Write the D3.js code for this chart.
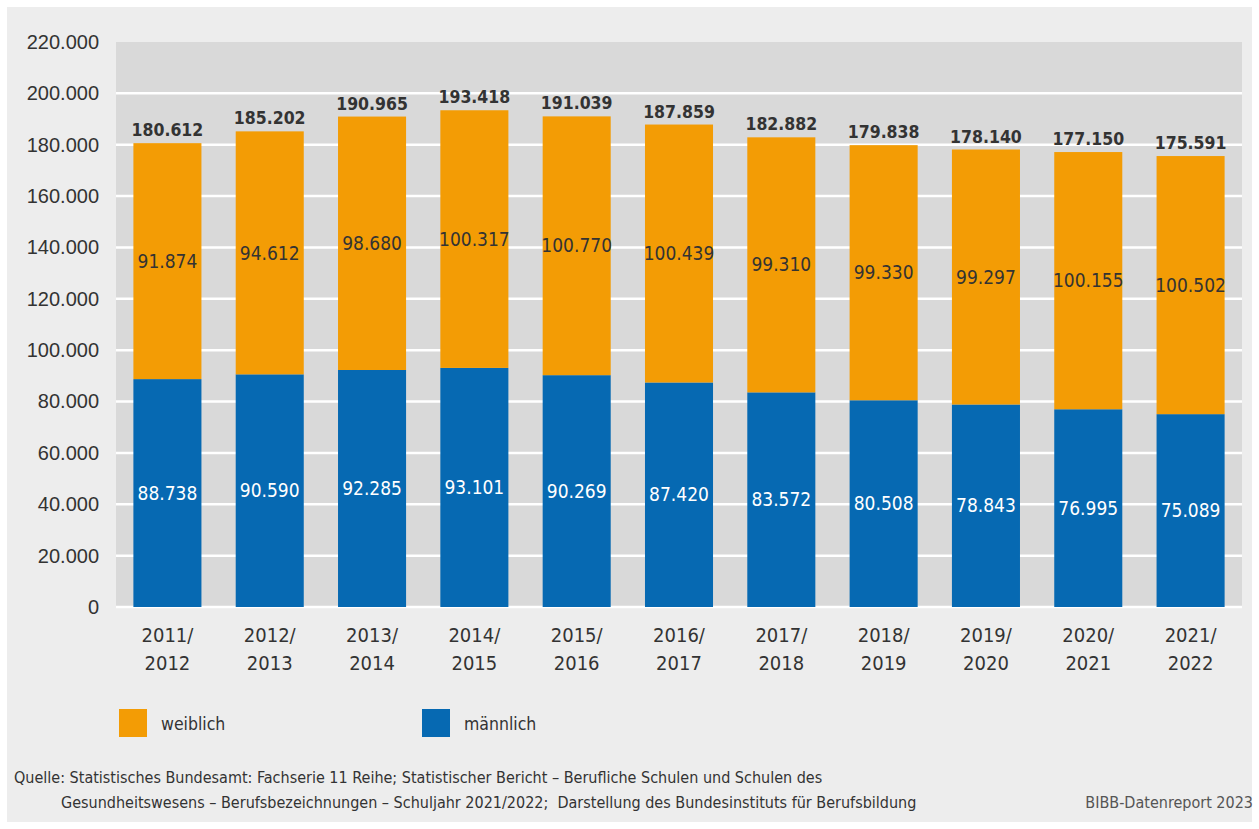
<!DOCTYPE html>
<html><head><meta charset="utf-8">
<script src="https://cdn.jsdelivr.net/npm/d3@7"></script>
<style>
body{margin:0;background:#fff;}
svg{display:block;font-family:"DejaVu Sans Condensed","DejaVu Sans",sans-serif;}
</style></head>
<body><svg id="c" width="1259" height="829"></svg>
<script>
const categories = ["2011/2012","2012/2013","2013/2014","2014/2015","2015/2016","2016/2017","2017/2018","2018/2019","2019/2020","2020/2021","2021/2022"];
const maennlich = [88738,90590,92285,93101,90269,87420,83572,80508,78843,76995,75089];
const weiblich = [91874,94612,98680,100317,100770,100439,99310,99330,99297,100155,100502];
const totals = [180612,185202,190965,193418,191039,187859,182882,179838,178140,177150,175591];
const yTicks = [0,20000,40000,60000,80000,100000,120000,140000,160000,180000,200000,220000];

const svg = d3.select("#c");
svg.append("rect").attr("x",7).attr("y",7).attr("width",1245).attr("height",815).attr("fill","#ededed");

const m = {l:116, r:1242, t:42, b:607};
const x = d3.scaleBand().domain(categories).range([m.l,m.r]).paddingInner(0.335).paddingOuter(0.17);
const y = d3.scaleLinear().domain([0,220000]).range([m.b,m.t]);
const fmt = v => d3.format(",")(v).replace(/,/g,".");

svg.append("rect").attr("x",m.l).attr("y",m.t).attr("width",m.r-m.l).attr("height",m.b-m.t).attr("fill","#d9d9d9");
svg.append("g").selectAll("line").data(yTicks.slice(0,-1)).join("line")
  .attr("x1",m.l).attr("x2",m.r).attr("y1",d=>y(d)).attr("y2",d=>y(d))
  .attr("stroke","#fff").attr("stroke-width",2.5);

const yAxis = svg.append("g").attr("transform",`translate(${m.l},0)`)
  .call(d3.axisLeft(y).tickValues(yTicks).tickFormat(fmt).tickSize(0).tickPadding(17));
yAxis.select(".domain").remove();
yAxis.selectAll("text").attr("font-size",20).attr("fill","#333").attr("font-family","inherit");

const bw = x.bandwidth();
svg.append("g").selectAll("rect").data(categories).join("rect")
  .attr("x",d=>x(d)).attr("width",bw)
  .attr("y",(d,i)=>y(maennlich[i])).attr("height",(d,i)=>y(0)-y(maennlich[i]))
  .attr("fill","#0669b2");
svg.append("g").selectAll("rect").data(categories).join("rect")
  .attr("x",d=>x(d)).attr("width",bw)
  .attr("y",(d,i)=>y(maennlich[i]+weiblich[i])).attr("height",(d,i)=>y(maennlich[i])-y(maennlich[i]+weiblich[i]))
  .attr("fill","#f39c05");

const lab = svg.append("g").attr("text-anchor","middle").attr("font-size",19);
lab.selectAll(".m").data(categories).join("text").attr("class","m")
  .attr("x",d=>x(d)+bw/2).attr("y",(d,i)=>(y(0)+y(maennlich[i]))/2).attr("dy","0.35em")
  .attr("fill","#fff").text((d,i)=>fmt(maennlich[i]));
lab.selectAll(".w").data(categories).join("text").attr("class","w")
  .attr("x",d=>x(d)+bw/2).attr("y",(d,i)=>(y(maennlich[i])+y(maennlich[i]+weiblich[i]))/2).attr("dy","0.35em")
  .attr("fill","#333").text((d,i)=>fmt(weiblich[i]));
lab.selectAll(".t").data(categories).join("text").attr("class","t")
  .attr("x",d=>x(d)+bw/2).attr("y",(d,i)=>y(totals[i])-7)
  .attr("fill","#333").attr("font-weight","bold").attr("font-size",17.5).text((d,i)=>fmt(totals[i]));

const xl = svg.append("g").attr("text-anchor","middle").attr("font-size",20).attr("fill","#333");
xl.selectAll("text").data(categories).join("text")
  .attr("x",d=>x(d)+bw/2).attr("y",642)
  .each(function(d){
    const p = d.split("/");
    const t = d3.select(this);
    t.append("tspan").attr("x",x(d)+bw/2).text(p[0]+"/");
    t.append("tspan").attr("x",x(d)+bw/2).attr("dy",28).text(p[1]);
  });

const legend = [{n:"weiblich",c:"#f39c05",x:119},{n:"männlich",c:"#0669b2",x:422}];
const lg = svg.append("g");
lg.selectAll("rect").data(legend).join("rect").attr("x",d=>d.x).attr("y",709).attr("width",28).attr("height",28).attr("fill",d=>d.c);
lg.selectAll("text").data(legend).join("text").attr("x",d=>d.x+42).attr("y",730).attr("font-size",17.5).attr("fill","#333").text(d=>d.n);

const src = svg.append("g").attr("font-size",16).attr("fill","#333");
src.append("text").attr("x",14).attr("y",783).text("Quelle: Statistisches Bundesamt: Fachserie 11 Reihe; Statistischer Bericht – Berufliche Schulen und Schulen des");
src.append("text").attr("x",61).attr("y",808).attr("xml:space","preserve").text("Gesundheitswesens – Berufsbezeichnungen – Schuljahr 2021/2022;  Darstellung des Bundesinstituts für Berufsbildung");
svg.append("text").attr("x",1253).attr("y",808).attr("text-anchor","end").attr("font-size",16).attr("fill","#555").text("BIBB-Datenreport 2023");
</script></body></html>
